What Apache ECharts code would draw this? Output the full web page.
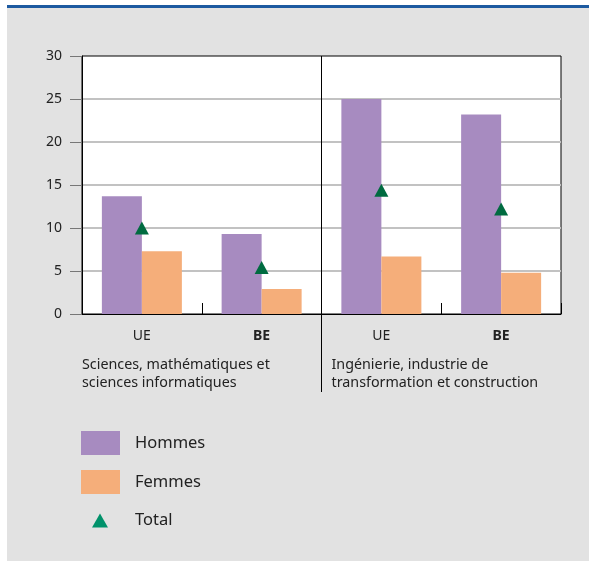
<!DOCTYPE html>
<html>
<head>
<meta charset="utf-8">
<script src="https://cdn.jsdelivr.net/npm/echarts@6/dist/echarts.min.js"></script>
<style>
  html, body { margin: 0; padding: 0; background: #ffffff; }
  #card {
    position: absolute; left: 7px; top: 5px; width: 582px; height: 553px;
    background: #e2e2e2; border-top: 3px solid #1d5aa0;
  }
  #chart { position: absolute; left: 0; top: 0; width: 589px; height: 561px; }
</style>
</head>
<body>
<div id="card"></div>
<div id="chart"></div>
<script>
// Share of graduates (per 1000), by field and sex
const categories = ['UE', 'BE', 'UE', 'BE'];
const groups = [
  'Sciences, mathématiques et\nsciences informatiques',
  'Ingénierie, industrie de\ntransformation et construction'
];
const hommes = [13.7, 9.3, 25.0, 23.2];
const femmes = [7.3, 2.9, 6.7, 4.8];
const total = [10.0, 5.4, 14.4, 12.2];
const yMin = 0, yMax = 30, yStep = 5;

const FONT = '"Noto Sans", "Open Sans", sans-serif';
const TXT = '#222222';

const chart = echarts.init(document.getElementById('chart'), null, { renderer: 'canvas' });

chart.setOption({
  backgroundColor: 'transparent',
  animation: false,
  textStyle: { fontFamily: FONT },
  grid: {
    left: 82, right: 28, top: 56, bottom: 247,
    show: true, backgroundColor: '#ffffff', borderColor: '#000000', borderWidth: 1
  },
  legend: [
    {
      orient: 'vertical', left: 81, top: 431, padding: 0,
      itemWidth: 39, itemHeight: 24, itemGap: 15, selectedMode: false,
      icon: 'rect',
      data: ['Hommes', 'Femmes'],
      textStyle: { fontFamily: FONT, fontSize: 16.5, color: TXT, padding: [0, 0, 0, 10] }
    },
    {
      orient: 'vertical', left: 92, top: 512, padding: 0,
      itemWidth: 16, itemHeight: 14, selectedMode: false,
      data: [{ name: 'Total', icon: 'triangle', itemStyle: { color: '#00916a', opacity: 1 } }],
      textStyle: { fontFamily: FONT, fontSize: 16.5, color: TXT, padding: [0, 0, 4, 22] }
    }
  ],
  xAxis: [
    {
      type: 'category',
      data: categories,
      axisLine: { show: true, lineStyle: { color: '#000000', width: 1 } },
      axisTick: {
        show: true, inside: true, length: 11,
        interval: function (i) { return i === 1 || i === 3; },
        lineStyle: { color: '#000000', width: 1 }
      },
      axisLabel: {
        interval: 0, margin: 15, fontSize: 14, color: TXT, fontFamily: FONT,
        formatter: function (v, i) { return i % 2 === 1 ? '{b|' + v + '}' : v; },
        rich: { b: { fontWeight: 'bold', fontSize: 14, color: TXT, fontFamily: FONT } }
      },
      splitLine: { show: false }
    },
    {
      // group axis: divider between fields and field names
      type: 'category',
      boundaryGap: false,
      position: 'bottom',
      data: [groups[0], groups[1], ''],
      axisLine: { show: false },
      axisTick: {
        show: true, length: 78,
        interval: function (i) { return i === 1; },
        lineStyle: { color: '#000000', width: 1 }
      },
      splitLine: {
        show: true,
        interval: function (i) { return i === 1; },
        lineStyle: { color: '#000000', width: 1 }
      },
      axisLabel: {
        interval: 0, align: 'left', margin: 42, fontSize: 14.3, lineHeight: 18,
        color: TXT, fontFamily: FONT,
        formatter: function (v, i) { return i === 1 ? '{p|' + v + '}' : v; },
        rich: { p: { padding: [0, 0, 0, 10], fontSize: 14.3, lineHeight: 18, color: TXT, fontFamily: FONT } }
      }
    }
  ],
  yAxis: {
    type: 'value', min: yMin, max: yMax, interval: yStep,
    axisLine: { show: true, lineStyle: { color: '#000000', width: 1 } },
    axisTick: { show: true, length: 12, lineStyle: { color: '#777777', width: 1 } },
    axisLabel: { margin: 20, fontSize: 14, color: TXT, fontFamily: FONT },
    splitLine: {
      show: true, showMinLine: false, showMaxLine: false,
      lineStyle: { color: '#c2c2c2', width: 2 }
    }
  },
  series: [
    {
      name: 'Hommes', type: 'bar', xAxisIndex: 0, data: hommes,
      barWidth: 40, barGap: '0%',
      itemStyle: { color: '#a78bc0' }
    },
    {
      name: 'Femmes', type: 'bar', xAxisIndex: 0, data: femmes,
      barWidth: 40, barGap: '0%',
      itemStyle: { color: '#f5ae7a' }
    },
    {
      name: 'Total', type: 'scatter', xAxisIndex: 0, data: total,
      symbol: 'triangle', symbolSize: [14, 13], z: 5,
      itemStyle: { color: '#006b40', opacity: 1 }
    }
  ]
});
</script>
</body>
</html>
